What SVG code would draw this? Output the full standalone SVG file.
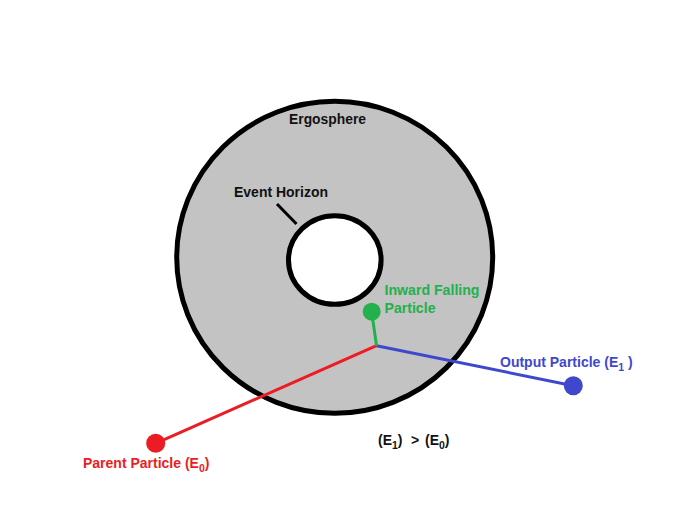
<svg xmlns="http://www.w3.org/2000/svg" width="689" height="515" viewBox="0 0 689 515">
<style>
text{font-family:"Liberation Sans",Arial,sans-serif;font-weight:bold;font-size:14px}
.k{fill:#111}
.r{fill:#ED1C24}
.g{fill:#22B14C}
.b{fill:#3F48CC}
.sub{font-size:10.5px}
</style>
<rect width="689" height="515" fill="#fff"/>
<g id="ergosphere">
<ellipse cx="334.7" cy="257.3" rx="158" ry="156" fill="#C3C3C3" stroke="#000" stroke-width="5"/>
<text class="k" x="289" y="124" textLength="77" lengthAdjust="spacingAndGlyphs">Ergosphere</text>
</g>
<g id="event-horizon">
<ellipse cx="334.8" cy="260" rx="46.3" ry="44.3" fill="#fff" stroke="#000" stroke-width="5"/>
<text class="k" x="234" y="197" textLength="94" lengthAdjust="spacingAndGlyphs">Event Horizon</text>
<line x1="277" y1="204" x2="296.5" y2="224" stroke="#000" stroke-width="3"/>
</g>
<g id="connectors" stroke-width="3" fill="none">
<line x1="155.7" y1="443.3" x2="376.5" y2="345.7" stroke="#ED1C24"/>
<line x1="376.5" y1="345.7" x2="573.3" y2="385.7" stroke="#3F48CC"/>
<line x1="371.7" y1="311.7" x2="376.5" y2="345.7" stroke="#22B14C"/>
</g>
<g id="inward-particle">
<circle cx="371.7" cy="311.7" r="9" fill="#22B14C"/>
<text class="g" x="384.5" y="295" textLength="95" lengthAdjust="spacingAndGlyphs">Inward Falling</text>
<text class="g" x="384.5" y="313.3" textLength="51" lengthAdjust="spacingAndGlyphs">Particle</text>
</g>
<g id="parent-particle">
<circle cx="155.7" cy="443.3" r="9.5" fill="#ED1C24"/>
<text class="r" x="83" y="467.7">Parent Particle (E<tspan class="sub" dy="4">0</tspan><tspan dy="-4">)</tspan></text>
</g>
<g id="output-particle">
<circle cx="573.3" cy="385.7" r="9.5" fill="#3F48CC"/>
<text class="b" x="500" y="367.3">Output Particle (E<tspan class="sub" dy="4">1</tspan><tspan dy="-4"> )</tspan></text>
</g>
<g id="energy-relation">
<text class="k" x="378" y="445">(E<tspan class="sub" dy="4">1</tspan><tspan dy="-4">)</tspan><tspan x="411">&gt;</tspan><tspan x="425">(E</tspan><tspan class="sub" dy="4">0</tspan><tspan dy="-4">)</tspan></text>
</g>
</svg>
